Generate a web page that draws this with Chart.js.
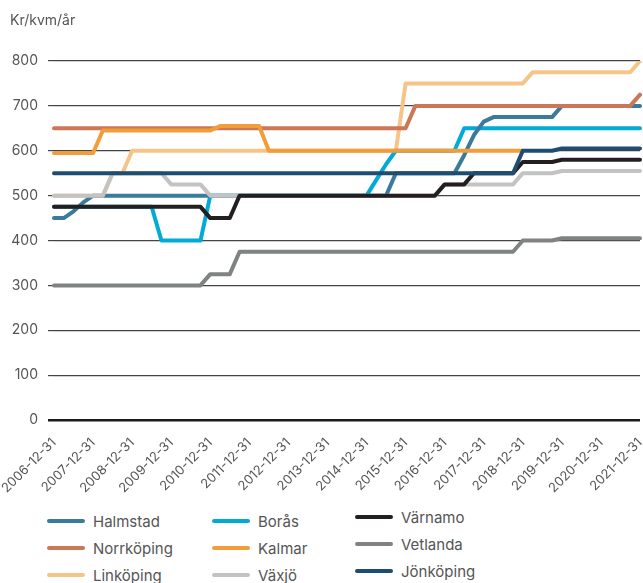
<!DOCTYPE html>
<html>
<head>
<meta charset="utf-8">
<script src="https://cdn.jsdelivr.net/npm/chart.js@4.4.1/dist/chart.umd.min.js"></script>
<style>
  body { margin: 0; background: #fff; font-family: "Inter", "Roboto", sans-serif; color: #555; }
  #wrap { position: relative; width: 643px; height: 583px; overflow: hidden; }
  #unit { position: absolute; left: 10px; top: 11px; font-size: 14px; color: #555; }
  #legend { position: absolute; left: 47px; top: 512px; display: grid;
            grid-template-columns: 165px 143px 200px; row-gap: 9px; font-size: 15px; color: #555; }
  .item { display: flex; align-items: center; height: 18px; }
  .item.c3 { margin-top: -4px; }
  .sw { width: 38px; height: 4px; border-radius: 2px; margin-right: 8px; }
</style>
</head>
<body>
<div id="wrap">
  <div id="unit">Kr/kvm/år</div>
  <canvas id="chart" width="643" height="500"></canvas>
  <div id="legend"></div>
</div>
<script>
// Tick labels (year ends), data is quarterly in between
const tickLabels = ['2006-12-31','2007-12-31','2008-12-31','2009-12-31','2010-12-31','2011-12-31',
  '2012-12-31','2013-12-31','2014-12-31','2015-12-31','2016-12-31','2017-12-31',
  '2018-12-31','2019-12-31','2020-12-31','2021-12-31'];
const quarterEnds = ['03-31','06-30','09-30','12-31'];

const halmstad = [450,450,465,485,500,500,500,500,500,500,
  500,500,500,500,500,500,500,500,500,500,
  500,500,500,500,500,500,500,500,500,500,
  500,500,500,500,500,550,550,550,550,550,
  550,550,590,635,665,675,675,675,675,675,
  675,675,700,700,700,700,700,700,700,700,
  700];
const norrkoping = [650,650,650,650,650,650,650,650,650,650,
  650,650,650,650,650,650,650,650,650,650,
  650,650,650,650,650,650,650,650,650,650,
  650,650,650,650,650,650,650,700,700,700,
  700,700,700,700,700,700,700,700,700,700,
  700,700,700,700,700,700,700,700,700,700,
  725];
const linkoping = [500,500,500,500,500,500,550,550,600,600,
  600,600,600,600,600,600,600,600,600,600,
  600,600,600,600,600,600,600,600,600,600,
  600,600,600,600,600,600,750,750,750,750,
  750,750,750,750,750,750,750,750,750,775,
  775,775,775,775,775,775,775,775,775,775,
  800];
const boras = [475,475,475,475,475,475,475,475,475,475,
  475,400,400,400,400,400,500,500,500,500,
  500,500,500,500,500,500,500,500,500,500,
  500,500,500,535,570,600,600,600,600,600,
  600,600,650,650,650,650,650,650,650,650,
  650,650,650,650,650,650,650,650,650,650,
  650];
const kalmar = [595,595,595,595,595,645,645,645,645,645,
  645,645,645,645,645,645,645,655,655,655,
  655,655,600,600,600,600,600,600,600,600,
  600,600,600,600,600,600,600,600,600,600,
  600,600,600,600,600,600,600,600,600,null,
  null,null,null,null,null,null,null,null,null,null,
  null];
const vaxjo = [500,500,500,500,500,500,550,550,550,550,
  550,550,525,525,525,525,500,500,500,500,
  500,500,500,500,500,500,500,500,500,500,
  500,500,500,500,500,500,500,500,500,500,
  525,525,525,525,525,525,525,525,550,550,
  550,550,555,555,555,555,555,555,555,555,
  555];
const varnamo = [475,475,475,475,475,475,475,475,475,475,
  475,475,475,475,475,475,450,450,450,500,
  500,500,500,500,500,500,500,500,500,500,
  500,500,500,500,500,500,500,500,500,500,
  525,525,525,550,550,550,550,550,575,575,
  575,575,580,580,580,580,580,580,580,580,
  580];
const vetlanda = [300,300,300,300,300,300,300,300,300,300,
  300,300,300,300,300,300,325,325,325,375,
  375,375,375,375,375,375,375,375,375,375,
  375,375,375,375,375,375,375,375,375,375,
  375,375,375,375,375,375,375,375,400,400,
  400,400,405,405,405,405,405,405,405,405,
  405];
const jonkoping = [550,550,550,550,550,550,550,550,550,550,
  550,550,550,550,550,550,550,550,550,550,
  550,550,550,550,550,550,550,550,550,550,
  550,550,550,550,550,550,550,550,550,550,
  550,550,550,550,550,550,550,550,600,600,
  600,600,605,605,605,605,605,605,605,605,
  605];

const yTicks = [0,100,200,300,400,500,600,700,800];

// build quarterly categories from the year-end labels
let labels = [tickLabels[0]];
for (let y = 1; y < tickLabels.length; y++) {
  let year = tickLabels[y].slice(0, 4);
  quarterEnds.forEach(q => labels.push(year + '-' + q));
}

// legend order is column-wise; order = draw weight (lower on top)
const series = [
  {name: 'Halmstad',   data: halmstad,   color: '#3a7b9c', order: 6, col: 1},
  {name: 'Norrköping', data: norrkoping, color: '#cc7858', order: 4, col: 1},
  {name: 'Linköping',  data: linkoping,  color: '#f7c488', order: 8, col: 1},
  {name: 'Borås',      data: boras,      color: '#00acd5', order: 7, col: 2},
  {name: 'Kalmar',     data: kalmar,     color: '#f09d3a', order: 2, col: 2},
  {name: 'Växjö',      data: vaxjo,      color: '#c3c3c3', order: 3, col: 2},
  {name: 'Värnamo',    data: varnamo,    color: '#231f20', order: 1, col: 3},
  {name: 'Vetlanda',   data: vetlanda,   color: '#808383', order: 5, col: 3},
  {name: 'Jönköping',  data: jonkoping,  color: '#1f4d72', order: 0, col: 3}
];

new Chart(document.getElementById('chart'), {
  type: 'line',
  data: {
    labels: labels,
    datasets: series.map(s => ({
      label: s.name,
      data: s.data,
      borderColor: s.color,
      backgroundColor: s.color,
      borderWidth: 4,
      borderCapStyle: 'round',
      borderJoinStyle: 'round',
      pointRadius: 0,
      tension: 0,
      spanGaps: false,
      order: s.order
    }))
  },
  options: {
    responsive: false,
    animation: false,
    layout: {padding: {top: 61, right: 3, left: 0, bottom: 0}},
    plugins: {legend: {display: false}, tooltip: {enabled: false}},
    scales: {
      x: {
        grid: {display: false},
        border: {display: false},
        afterFit: s => { s.height = 80; s.paddingRight = 0; s.paddingLeft = 0; },
        ticks: {
          autoSkip: false,
          maxRotation: 45,
          minRotation: 45,
          padding: 7,
          color: '#555',
          font: {family: 'Inter', size: 13},
          callback: function(v, i) { return i % 4 === 0 ? labels[i] : ''; }
        }
      },
      y: {
        min: 0,
        max: 800,
        afterFit: s => { s.width = 54; },
        afterBuildTicks: s => { s.ticks = yTicks.map(v => ({value: v})); },
        border: {display: false},
        grid: {
          color: ctx => ctx.tick && ctx.tick.value === 0 ? '#1a1a1a' : '#444',
          lineWidth: ctx => ctx.tick && ctx.tick.value === 0 ? 2.5 : 1.2,
          tickLength: 6
        },
        ticks: {
          padding: 10,
          color: '#555',
          font: {family: 'Inter', size: 14}
        }
      }
    }
  }
});

// HTML legend, three columns
let legend = document.getElementById('legend');
[0, 3, 6, 1, 4, 7, 2, 5, 8].forEach(k => {
  let s = series[k];
  legend.innerHTML += `<div class="item c${s.col}"><span class="sw" style="background:${s.color}"></span>${s.name}</div>`;
});
</script>
</body>
</html>
